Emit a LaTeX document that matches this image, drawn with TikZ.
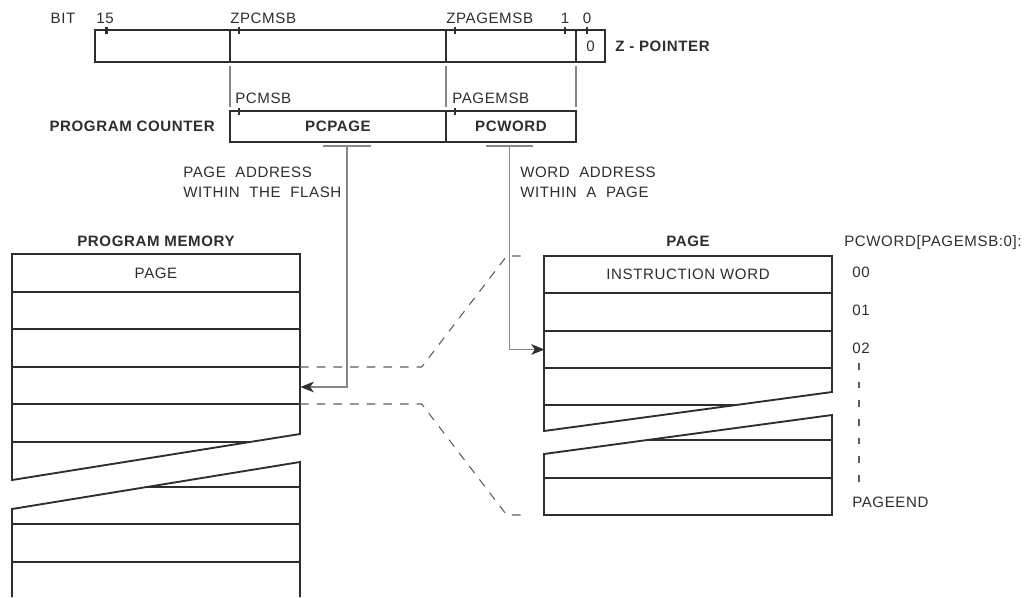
\documentclass[tikz,border=0pt]{standalone}
\usepackage{fontspec}
\setmainfont{Liberation Sans}[LetterSpace=4]
\usetikzlibrary{arrows.meta,positioning}
\definecolor{ink}{HTML}{2e2e2e}
\definecolor{wire}{HTML}{868686}
\definecolor{dsh}{HTML}{5c5c5c}
\newcommand{\txtsz}{\fontsize{11.3}{15}\selectfont}

\begin{document}
\begin{tikzpicture}[x=0.75pt, y=-0.75pt, font=\txtsz, text=ink,
  >={Stealth[length=10pt, width=8pt, inset=2.8pt, color=ink]},
  fld/.style={draw=ink, line width=1.4pt, inner sep=0pt, outer sep=0pt, minimum height=24pt},
  lbl/.style={inner sep=0pt},
  hd/.style={inner sep=0pt, font=\txtsz\bfseries},
  blk/.style={draw=ink, line width=1.4pt},
  tck/.style={draw=ink, line width=1.6pt},
  lnk/.style={draw=wire, line width=0.8pt},
  zoomln/.style={draw=dsh, line width=0.8pt, dash pattern=on 6.5pt off 6pt}]
\useasboundingbox (0,0) rectangle (1033,597);

\node[fld, minimum width=101.25pt, anchor=west] (z1) at (95,46) {};
\node[fld, minimum width=162pt, right=0pt of z1] (z2) {};
\node[fld, minimum width=97.5pt, right=0pt of z2] (z3) {};
\node[fld, minimum width=21.75pt, right=0pt of z3] (z4) {0};
\node[hd, right=7.5pt of z4] (zname) {Z - POINTER};
\foreach \tx in {106.5,239,455,565,587} \draw[tck] (\tx,27) -- (\tx,34);
\node[lbl, anchor=base] (bit) at (63,23.3) {BIT};
\node[lbl, anchor=base] (b15) at (105,23.3) {15};
\node[lbl, anchor=base west] (zpcmsb) at (230,23.3) {ZPCMSB};
\node[lbl, anchor=base west] (zpagemsb) at (446,23.3) {ZPAGEMSB};
\node[lbl, anchor=base] (b1) at (565,23.3) {1};
\node[lbl, anchor=base] (b0) at (587,23.3) {0};

\node[fld, minimum width=162pt, minimum height=23.25pt, anchor=north west] (pcpage) at (230,111) {\bfseries PCPAGE};
\node[fld, minimum width=97.5pt, minimum height=23.25pt, right=0pt of pcpage] (pcword) {\bfseries PCWORD};
\node[hd, left=11.25pt of pcpage] (pcname) {PROGRAM COUNTER};
\foreach \tx in {239,455} \draw[tck] (\tx,108) -- (\tx,115);
\node[lbl, anchor=base west] (pcmsb) at (235,103) {PCMSB};
\node[lbl, anchor=base west] (pagemsb) at (452,103) {PAGEMSB};
\draw[lnk] ([yshift=-3pt]z2.south west) -- ([yshift=3pt]pcpage.north west);
\draw[lnk] ([yshift=-3pt]z3.south west) -- ([yshift=3pt]pcword.north west);
\draw[lnk] ([yshift=-3pt]z3.south east) -- ([yshift=3pt]pcword.north east);

\coordinate (pgtap) at (347,146);
\coordinate (wdtap) at (509.5,146);
\draw[lnk] ([xshift=-18pt]pgtap) -- ([xshift=18pt]pgtap);
\draw[lnk] ([xshift=-17.6pt]wdtap) -- ([xshift=17.6pt]wdtap);
\node[lbl, align=left, anchor=north west] (pgcap) at (183,166.7) {PAGE\ \ ADDRESS\\WITHIN\ \ THE\ \ FLASH};
\node[lbl, align=left, anchor=north west] (wdcap) at (520,166.7) {WORD\ \ ADDRESS\\WITHIN\ \ A\ \ PAGE};

\node[hd, anchor=base] (pmtitle) at (156,246.8) {PROGRAM MEMORY};
\draw[blk] (12,254) -- (300,254) -- (300,434) -- (12,480) -- cycle;
\foreach \ry in {292,329,367,404} \draw[blk] (12,\ry) -- (300,\ry);
\draw[blk] (12,442) -- (250,442);
\draw[blk] (12,597) -- (12,509) -- (300,462) -- (300,597);
\draw[blk] (146,487) -- (300,487);
\foreach \ry in {524,562} \draw[blk] (12,\ry) -- (300,\ry);
\node[lbl] (pmpage) at (156,273) {PAGE};

\node[hd, anchor=base] (pgtitle) at (688,246.8) {PAGE};
\draw[blk] (544,256) -- (832,256) -- (832,392) -- (544,431) -- cycle;
\foreach \ry in {293,331,368} \draw[blk] (544,\ry) -- (832,\ry);
\draw[blk] (544,405) -- (736,405);
\draw[blk] (544,454) -- (832,415) -- (832,515) -- (544,515) -- cycle;
\draw[blk] (647,440) -- (832,440);
\draw[blk] (544,478) -- (832,478);
\node[lbl] (iword) at (688,274.5) {INSTRUCTION WORD};

\node[lbl, anchor=base west] (pcwidx) at (844,246.7) {PCWORD[PAGEMSB:0]:};
\node[lbl, anchor=base west] (w00) at (852,277.7) {00};
\node[lbl, anchor=base west] (w01) at (852,315) {01};
\node[lbl, anchor=base west] (w02) at (852,353) {02};
\node[lbl, anchor=base west] (wend) at (852,507) {PAGEEND};
\draw[draw=dsh, line width=0.8pt, dash pattern=on 5pt off 9pt] (859,363) -- (859,488);

\coordinate (pmhi) at (300,367);
\coordinate (pmlo) at (300,404);
\coordinate (pghi) at (528,256);
\coordinate (pglo) at (528,515);
\draw[zoomln] (pmhi) -- (421.7,367) -- (506.7,256) -- (pghi);
\draw[zoomln] (pmlo) -- (421.7,404) -- (506.7,515) -- (pglo);

\coordinate (pmin) at (300.5,387);
\coordinate (pgin) at (544.5,349.5);
\draw[lnk, ->] (pgtap) |- (pmin);
\draw[lnk, ->] (wdtap) |- (pgin);
\end{tikzpicture}
\end{document}
